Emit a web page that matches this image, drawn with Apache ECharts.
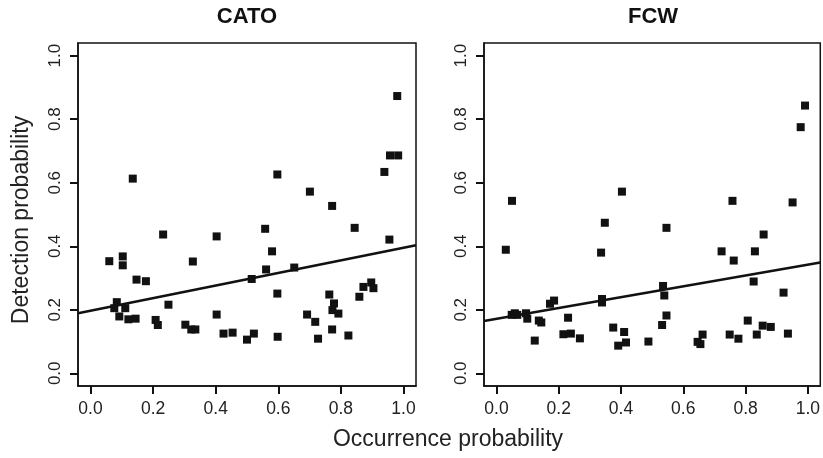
<!DOCTYPE html>
<html>
<head>
<meta charset="utf-8">
<script src="https://cdn.jsdelivr.net/npm/echarts@6/dist/echarts.min.js"></script>
<style>html,body{margin:0;padding:0;background:#fff}#c{width:823px;height:458px}</style>
</head>
<body>
<div id="c"></div>
<script>
// Tick values shown on both axes
const tickValues = [0, 0.2, 0.4, 0.6, 0.8, 1.0];

// CATO panel
const catoX = [0.060,0.103,0.103,0.147,0.177,0.232,0.403,0.327,0.515,0.084,0.076,0.111,0.092,0.121,0.144,0.249,0.208,0.215,0.303,0.322,0.335,0.403,0.425,0.454,0.500,0.522,
  0.135,0.980,0.957,0.983,0.939,0.597,0.701,0.772,
  0.558,0.844,0.955,0.580,0.561,0.651,0.597,0.763,0.778,0.773,0.792,0.692,0.718,0.872,0.897,0.904,0.859,0.772,0.824,0.727,0.598];
const catoY = [0.353,0.368,0.340,0.295,0.290,0.437,0.431,0.352,0.297,0.224,0.205,0.205,0.179,0.170,0.172,0.216,0.168,0.152,0.153,0.138,0.138,0.185,0.125,0.128,0.106,0.125,
  0.613,0.873,0.686,0.686,0.634,0.626,0.572,0.527,
  0.455,0.458,0.421,0.384,0.327,0.333,0.251,0.248,0.220,0.199,0.188,0.185,0.162,0.272,0.286,0.268,0.241,0.138,0.119,0.109,0.115];
const catoLineX = [-0.04, 1.04];
const catoLineY = [0.189, 0.403];

// FCW panel
const fcwX = [0.050,0.403,0.991,0.977,0.758,0.951,
  0.030,0.348,0.336,0.339,0.339,0.172,0.185,0.049,0.059,0.067,0.095,0.099,0.136,0.144,0.123,0.230,0.215,0.239,0.268,0.375,0.410,0.391,0.416,
  0.546,0.858,0.723,0.830,0.762,0.535,0.539,0.826,0.922,0.546,0.532,0.488,0.662,0.646,0.655,0.807,0.749,0.777,0.836,0.855,0.881,0.936];
const fcwY = [0.543,0.572,0.843,0.775,0.543,0.538,
  0.389,0.474,0.380,0.234,0.223,0.219,0.229,0.184,0.189,0.184,0.189,0.172,0.166,0.160,0.103,0.175,0.123,0.125,0.110,0.144,0.130,0.087,0.097,
  0.458,0.437,0.384,0.384,0.355,0.275,0.245,0.289,0.254,0.182,0.152,0.100,0.122,0.099,0.092,0.166,0.122,0.109,0.122,0.150,0.146,0.125];
const fcwLineX = [-0.04, 1.04];
const fcwLineY = [0.165, 0.349];

const zip = (a, b) => a.map((v, i) => [v, b[i]]);
const FONT = "'Liberation Sans', Arial, sans-serif";

function ax(gi, isY) {
  return {
    type: 'value', gridIndex: gi, min: -0.04, max: 1.04,
    splitLine: {show: false},
    axisLine: {show: true, onZero: false, lineStyle: {color: '#111', width: 1.5}},
    axisTick: {show: true, length: 8, customValues: tickValues, lineStyle: {color: '#111', width: 2}},
    axisLabel: {show: true, customValues: tickValues, margin: 14, fontSize: isY ? 17 : 17.5, color: '#222', fontFamily: FONT,
      rotate: isY ? 90 : 0, formatter: v => v.toFixed(1)}
  };
}

const chart = echarts.init(document.getElementById('c'));
chart.setOption({
  animation: false,
  backgroundColor: '#fff',
  title: [
    {text: 'CATO', left: 247, top: 6, textAlign: 'center', padding: 0,
      textStyle: {fontSize: 22, fontWeight: 'bold', color: '#111', fontFamily: FONT}},
    {text: 'FCW', left: 653, top: 6, textAlign: 'center', padding: 0,
      textStyle: {fontSize: 22, fontWeight: 'bold', color: '#111', fontFamily: FONT}},
    {text: 'Occurrence probability', left: 448, top: 428, textAlign: 'center', padding: 0,
      textStyle: {fontSize: 23, fontWeight: 'normal', color: '#222', fontFamily: FONT}}
  ],
  graphic: [
    {type: 'text', x: 22, y: 220, rotation: Math.PI / 2,
      style: {text: 'Detection probability', fontSize: 23, fill: '#222', fontFamily: FONT, align: 'center', verticalAlign: 'middle'}}
  ],
  grid: [
    {left: 78, top: 43, width: 338, height: 343, show: true, borderColor: '#111', borderWidth: 1.5, backgroundColor: 'transparent'},
    {left: 484, top: 43, width: 338, height: 343, show: true, borderColor: '#111', borderWidth: 1.5, backgroundColor: 'transparent'}
  ],
  xAxis: [ax(0, false), ax(1, false)],
  yAxis: [ax(0, true), ax(1, true)],
  series: [
    {type: 'scatter', xAxisIndex: 0, yAxisIndex: 0, data: zip(catoX, catoY), symbol: 'rect', symbolSize: 8,
      itemStyle: {color: '#111', opacity: 1}},
    {type: 'line', xAxisIndex: 0, yAxisIndex: 0, data: zip(catoLineX, catoLineY), symbol: 'none',
      lineStyle: {color: '#111', width: 2.5}},
    {type: 'scatter', xAxisIndex: 1, yAxisIndex: 1, data: zip(fcwX, fcwY), symbol: 'rect', symbolSize: 8,
      itemStyle: {color: '#111', opacity: 1}},
    {type: 'line', xAxisIndex: 1, yAxisIndex: 1, data: zip(fcwLineX, fcwLineY), symbol: 'none',
      lineStyle: {color: '#111', width: 2.5}}
  ]
});
</script>
</body>
</html>
